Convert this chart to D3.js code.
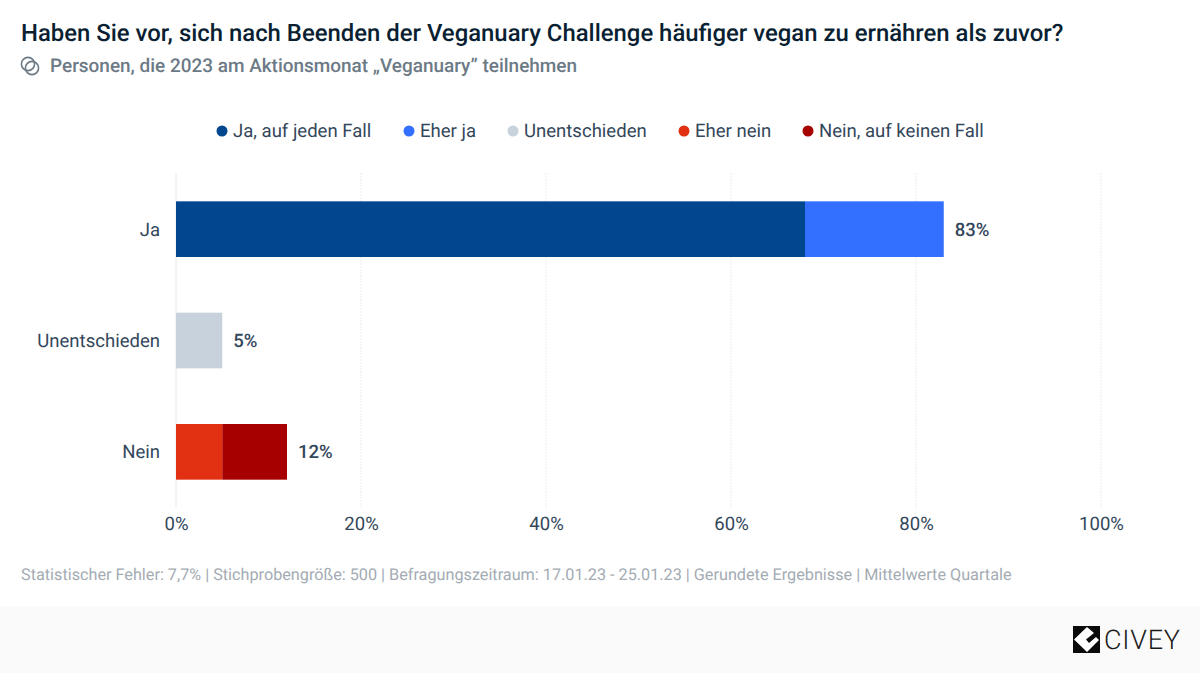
<!DOCTYPE html>
<html>
<head>
<meta charset="utf-8">
<script src="https://cdn.jsdelivr.net/npm/d3@7"></script>
<style>
    html, body { margin: 0; padding: 0; background: #fff; }
    text { font-family: Roboto, sans-serif; text-rendering: geometricPrecision; }
</style>
</head>
<body>
<div id="chart"></div>
<script>
// Chart values
const categories = ["Ja", "Unentschieden", "Nein"];
const answers = ["Ja, auf jeden Fall", "Eher ja", "Unentschieden", "Eher nein", "Nein, auf keinen Fall"];
const colors = ["#00478f", "#3370ff", "#c7d2dc", "#e13012", "#a60000"];
const jaValues = [68, 15, 0, 0, 0];
const unentschiedenValues = [0, 0, 5, 0, 0];
const neinValues = [0, 0, 0, 5, 7];
const totals = [83, 5, 12];
const ticks = [0, 20, 40, 60, 80, 100];

const titleText = "Haben Sie vor, sich nach Beenden der Veganuary Challenge häufiger vegan zu ernähren als zuvor?";
const subtitleText = "Personen, die 2023 am Aktionsmonat „Veganuary” teilnehmen";
const footnoteText = "Statistischer Fehler: 7,7% | Stichprobengröße: 500 | Befragungszeitraum: 17.01.23 - 25.01.23 | Gerundete Ergebnisse | Mittelwerte Quartale";

const width = 1200;
const height = 673;
const marginLeft = 176;
const marginRight = 99;
const plotTop = 173.5;
const plotBottom = 507.5;

const svg = d3.select("#chart").append("svg")
    .attr("width", width)
    .attr("height", height)
    .style("display", "block");

const x = d3.scaleLinear().domain([0, 100]).range([marginLeft, width - marginRight]);
const y = d3.scaleBand().domain(categories).range([plotTop, plotBottom]).paddingInner(0.5).paddingOuter(0.25);

// Title and subtitle
svg.append("text")
    .attr("x", 21).attr("y", 41)
    .attr("font-size", 23.9).attr("font-weight", 500)
    .attr("fill", "#0b1f33")
    .text(titleText);

const icon = svg.append("g")
    .attr("transform", "translate(30,66)")
    .attr("fill", "none").attr("stroke", "#6c7a86").attr("stroke-width", 1.6);
icon.append("circle").attr("cx", -2).attr("cy", -2).attr("r", 6.6);
icon.append("circle").attr("cx", 2).attr("cy", 2).attr("r", 6.6);

svg.append("text")
    .attr("x", 50).attr("y", 71.5)
    .attr("font-size", 18.97).attr("font-weight", 500)
    .attr("fill", "#6c7a86")
    .text(subtitleText);

// Legend
const legendX = [222, 409, 513, 684, 808];
const legend = svg.append("g").selectAll("g")
    .data(answers)
    .join("g")
    .attr("transform", (d, i) => `translate(${legendX[i]},131)`);
legend.append("circle").attr("r", 5.5).attr("fill", (d, i) => colors[i]);
legend.append("text")
    .attr("x", 11).attr("y", 6)
    .attr("font-size", 18.55)
    .attr("fill", "#33475b")
    .text(d => d);

// Grid
svg.append("g").selectAll("line")
    .data(ticks)
    .join("line")
    .attr("x1", d => x(d)).attr("x2", d => x(d))
    .attr("y1", plotTop).attr("y2", plotBottom)
    .attr("stroke", d => d === 0 ? "#e6e6e6" : "#d9d9d9")
    .attr("stroke-width", 1)
    .attr("stroke-dasharray", d => d === 0 ? null : "1,2");

// Bars
const rows = [jaValues, unentschiedenValues, neinValues];
rows.forEach((values, r) => {
    let start = 0;
    values.forEach((v, i) => {
        if (v > 0) {
            svg.append("rect")
                .attr("x", x(start))
                .attr("y", y(categories[r]))
                .attr("width", x(start + v) - x(start))
                .attr("height", y.bandwidth())
                .attr("fill", colors[i]);
        }
        start += v;
    });
});

// Total labels
svg.append("g").selectAll("text")
    .data(totals)
    .join("text")
    .attr("x", d => x(d) + 11)
    .attr("y", (d, i) => y(categories[i]) + y.bandwidth() / 2 + 6.5)
    .attr("font-size", 18.55).attr("font-weight", 500)
    .attr("fill", "#33475b")
    .text(d => d + "%");

// Category labels
svg.append("g").selectAll("text")
    .data(categories)
    .join("text")
    .attr("x", 160)
    .attr("y", d => y(d) + y.bandwidth() / 2 + 6.5)
    .attr("text-anchor", "end")
    .attr("font-size", 18.55)
    .attr("fill", "#33475b")
    .text(d => d);

// X axis
const gx = svg.append("g")
    .attr("transform", `translate(0,${plotBottom})`)
    .call(d3.axisBottom(x).tickValues(ticks).tickFormat(d => d + "%").tickSize(0).tickPadding(9));
gx.select(".domain").remove();
gx.selectAll("text")
    .style("font-family", "Roboto, sans-serif")
    .attr("font-size", 18.55)
    .attr("fill", "#33475b");

// Footnote
svg.append("text")
    .attr("x", 21).attr("y", 579.5)
    .attr("font-size", 16.23)
    .attr("fill", "#a3abb3")
    .text(footnoteText);

// Footer band and logo
svg.append("rect")
    .attr("x", 0).attr("y", 606)
    .attr("width", width).attr("height", height - 606)
    .attr("fill", "#fafafa");

const logo = svg.append("g").attr("transform", "translate(1073,626)");
logo.append("rect").attr("width", 27).attr("height", 27).attr("fill", "#0a0a0a");
logo.append("path")
    .attr("d", "M1,13.5 L14,1 L21,7 L13,13.5 L16,17 L23,11 L26,14 L14,26 Z")
    .attr("fill", "#fff");
svg.append("text")
    .attr("x", 1104).attr("y", 649)
    .attr("font-size", 27).attr("font-weight", 300)
    .attr("textLength", 76)
    .attr("fill", "#1a1a1a")
    .text("CIVEY");
</script>
</body>
</html>
